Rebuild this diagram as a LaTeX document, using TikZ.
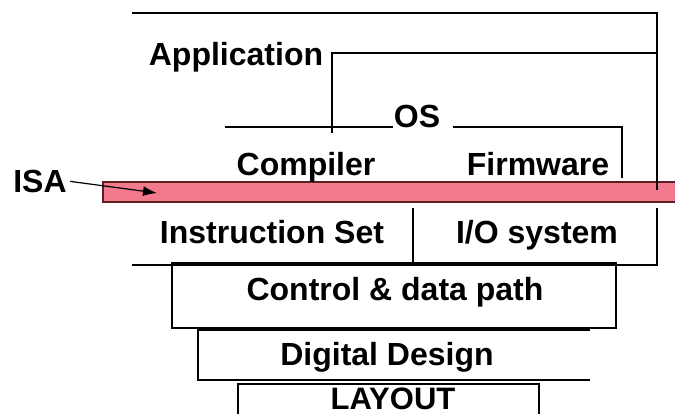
\documentclass[tikz,border=0pt]{standalone}
\usepackage{fontspec}
\setmainfont{Liberation Sans}
\usetikzlibrary{positioning,arrows.meta}
\definecolor{isapink}{RGB}{242,122,140}
\definecolor{isaedge}{RGB}{90,30,35}

\begin{document}
\begin{tikzpicture}[x=1pt,y=-1pt,line width=1.1pt,
  lbl/.style={anchor=base,inner sep=0pt,font=\fontsize{32}{38}\selectfont\bfseries},
  isabar/.style={draw=isaedge,fill=isapink,line width=1.2pt,minimum width=577pt,minimum height=20pt,inner sep=0pt}]
\useasboundingbox (0,0) rectangle (675,413);
\node[isabar] (bar) at (391.5,192) {};
\node[lbl] (app) at (236,65) {Application};
\node[lbl] (os) at (417,127) {OS};
\node[lbl] (comp) at (306,175) {Compiler};
\node[lbl] (firm) at (538,175) {Firmware};
\node[lbl] (isa) at (40,192) {ISA};
\node[lbl] (iset) at (272,243) {Instruction Set};
\node[lbl] (iosys) at (537,243) {I/O system};
\node[lbl] (ctrl) at (395,300) {Control \& data path};
\node[lbl] (dig) at (387,365) {Digital Design};
\node[lbl,font=\fontsize{31}{38}\selectfont\bfseries] (lay) at (393,409) {LAYOUT};
\node[coordinate] (tip) at (157,193) {};
\draw (132,13) -- (657,13) -- (657,190);
\draw (657,208) -- (657,265) -- (132,265);
\draw (332,133) -- (332,53) -- (657,53);
\draw (225,127) -- (os.base west);
\draw ([xshift=12pt]os.base east) -- (622,127) -- (622,178);
\draw (413,208) -- (413,265);
\draw (172,263) rectangle (616,328);
\draw (590,330) -- (198,330) -- (198,380) -- (590,380);
\draw (238,420) -- (238,384) -- (539,384) -- (539,420);
\draw[-{Latex[length=14pt,width=10pt]},line width=1.2pt,shorten <=3pt] (isa.east) -- (tip);
\end{tikzpicture}
\end{document}
